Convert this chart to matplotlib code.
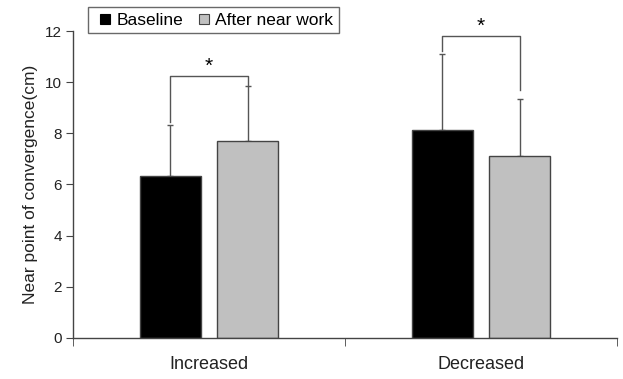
import matplotlib
matplotlib.use("Agg")
import matplotlib.pyplot as plt
from matplotlib.lines import Line2D
import numpy as np

categories = ["Increased", "Decreased"]
series_names = ["Baseline", "After near work"]
baseline = [6.34, 8.14]
baseline_sd = [1.99, 2.98]
after = [7.70, 7.11]
after_sd = [2.14, 2.24]
bracket_y = [10.23, 11.81]
bracket_right_low = [9.84, 9.69]
yticks = [0, 2, 4, 6, 8, 10, 12]

plt.rcParams['font.family'] = ['Liberation Sans', 'DejaVu Sans']

fig = plt.figure(figsize=(6.23, 3.79), dpi=100)
ax = fig.add_axes([0.1172, 0.1082, 0.8732, 0.8100])

x = np.arange(len(categories))
off = 0.1425
w = 0.224
edge = "#444444"
errc = "#555555"
gray = "#c0c0c0"

ax.bar(x - off, baseline, w, color="black", edgecolor=edge, linewidth=1.0, zorder=2)
ax.bar(x + off, after, w, color=gray, edgecolor=edge, linewidth=1.0, zorder=2)

zeros = [0, 0]
ax.errorbar(x - off, baseline, yerr=[zeros, baseline_sd], fmt="none", ecolor=errc,
            elinewidth=1.0, capsize=2.5, capthick=1.0, zorder=1)
ax.errorbar(x + off, after, yerr=[zeros, after_sd], fmt="none", ecolor=errc,
            elinewidth=1.0, capsize=2.5, capthick=1.0, zorder=1)

for i in range(len(categories)):
    left_low = baseline[i] + baseline_sd[i] + 0.1
    ax.plot([x[i] - off, x[i] - off, x[i] + off, x[i] + off],
            [left_low, bracket_y[i], bracket_y[i], bracket_right_low[i]],
            color=errc, linewidth=1.0, zorder=1)
    ax.annotate("*", xy=(x[i], bracket_y[i]), xytext=(0, 3), textcoords="offset points",
                ha="center", va="baseline", fontsize=15, color="black")

ax.set_xlim(-0.5, 1.5)
ax.set_ylim(0, 12)
ax.set_yticks(yticks)
ax.set_yticklabels([str(t) for t in yticks], fontsize=11, color="#222222")
ax.set_xticks(x)
ax.set_xticklabels(categories, fontsize=13, color="#222222")
ax.tick_params(axis="x", which="major", length=0, pad=13)
ax.set_xticks([-0.5, 0.5, 1.5], minor=True)
ax.tick_params(axis="x", which="minor", length=6, direction="out", color=edge)
ax.tick_params(axis="y", length=5, direction="out", color=edge, pad=3)

for s in ["top", "right"]:
    ax.spines[s].set_visible(False)
for s in ["left", "bottom"]:
    ax.spines[s].set_color(edge)
    ax.spines[s].set_linewidth(1.0)

ax.set_ylabel("Near point of convergence(cm)", fontsize=12.5, color="#222222", labelpad=5)

handles = [
    Line2D([], [], linestyle="none", marker="s", markersize=7.2,
           markerfacecolor="black", markeredgecolor="black", markeredgewidth=0.8),
    Line2D([], [], linestyle="none", marker="s", markersize=7.2,
           markerfacecolor=gray, markeredgecolor=edge, markeredgewidth=0.8),
]
leg = ax.legend(handles, series_names, loc="upper left", bbox_to_anchor=(0.0276, 1.078),
                ncol=2, frameon=True, fancybox=False, fontsize=12.5,
                handlelength=1.3, handletextpad=0.0,
                columnspacing=0.55, borderpad=0.32, borderaxespad=0)
leg.get_frame().set_edgecolor("#444444")
leg.get_frame().set_linewidth(1.0)

fig.savefig("out.png", dpi=100)
